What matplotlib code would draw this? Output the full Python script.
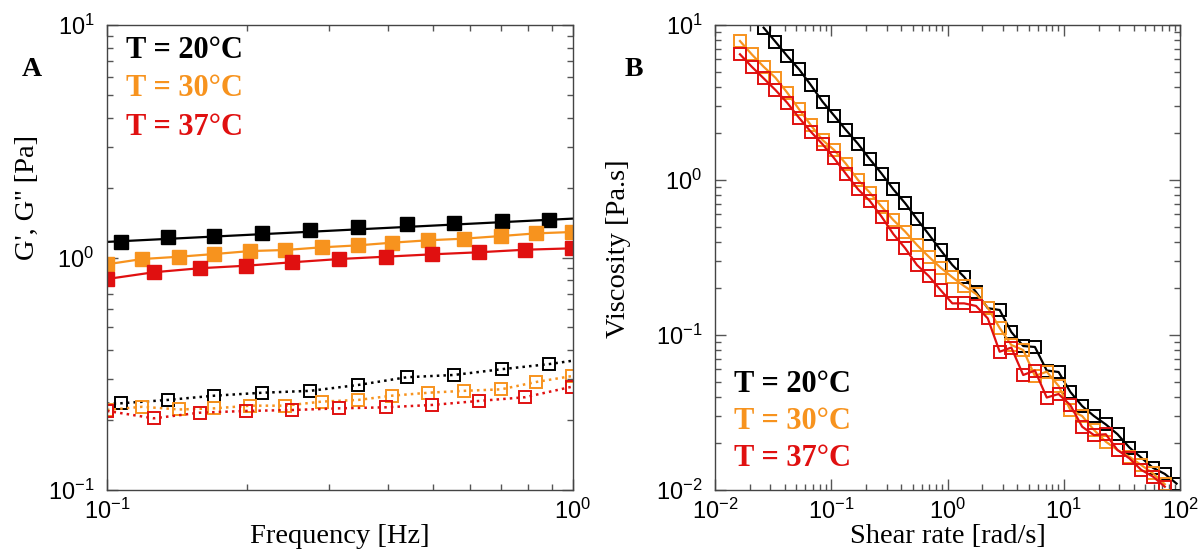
import matplotlib
matplotlib.use("Agg")
import matplotlib.pyplot as plt
from matplotlib.ticker import LogLocator, NullFormatter

plt.rcParams['font.family'] = 'Liberation Sans'
plt.rcParams['mathtext.fontset'] = 'custom'
plt.rcParams['mathtext.rm'] = 'Liberation Sans'

BLACK = '#000000'
ORANGE = '#F7931E'
RED = '#E01010'

# ---- panel A: oscillatory data ----
freq_20 = [0.107, 0.135, 0.170, 0.215, 0.273, 0.346, 0.440, 0.556, 0.705, 0.889]
g1_20 = [1.17, 1.22, 1.24, 1.27, 1.31, 1.35, 1.39, 1.41, 1.44, 1.45]
g2_20 = [0.236, 0.244, 0.2545, 0.262, 0.267, 0.283, 0.3055, 0.3125, 0.331, 0.348]
# fit lines for T = 20 (ends at 0.1 and 1 Hz)
fit_f = [0.1, 1.0]
fit_g1_20 = [1.167, 1.47]
fit_g2_20 = [0.235, 0.36]

freq_30 = [0.100, 0.119, 0.143, 0.170, 0.203, 0.241, 0.289, 0.346, 0.409, 0.489,
           0.583, 0.701, 0.833, 0.994]
g1_30 = [0.935, 0.985, 1.008, 1.035, 1.066, 1.077, 1.106, 1.128, 1.158, 1.186,
         1.205, 1.237, 1.27, 1.287]
g2_30 = [0.221, 0.228, 0.222, 0.2245, 0.2305, 0.2305, 0.240, 0.244, 0.2545, 0.262,
         0.267, 0.271, 0.2914, 0.309]

freq_37 = [0.100, 0.126, 0.158, 0.199, 0.250, 0.315, 0.396, 0.499, 0.627, 0.789, 0.994]
g1_37 = [0.808, 0.864, 0.899, 0.922, 0.954, 0.985, 1.008, 1.032, 1.053, 1.080, 1.095]
g2_37 = [0.2188, 0.2034, 0.215, 0.2188, 0.2208, 0.2245, 0.2268, 0.2322, 0.2415,
         0.2506, 0.278]

# ---- panel B: flow curves ----
rate = [0.0164, 0.0207, 0.0262, 0.0331, 0.0418, 0.0528, 0.0667, 0.0842, 0.106, 0.134,
        0.170, 0.215, 0.271, 0.342, 0.433, 0.546, 0.690, 0.872, 1.10, 1.39,
        1.76, 2.22, 2.81, 3.54, 4.48, 5.65, 7.14, 9.03, 11.4, 14.4,
        18.2, 23.0, 29.0, 36.7, 46.3, 58.6, 74.0, 93.4]
rate_20 = rate[2:]
rate_30 = rate[:37]
rate_37 = rate[:37]

visc_20 = [9.61, 7.80, 6.31, 5.18, 4.10, 3.20, 2.60, 2.10, 1.71, 1.36,
           1.10, 0.871, 0.707, 0.560, 0.446, 0.353, 0.283, 0.237, 0.189, 0.149,
           0.145, 0.1045, 0.0849, 0.0837, 0.0590, 0.0577, 0.0429, 0.0348, 0.0300, 0.0265,
           0.0229, 0.0188, 0.0162, 0.0139, 0.0127, 0.0110]
visc_30 = [7.88, 6.47, 5.38, 4.57, 3.66, 2.86, 2.26, 1.81, 1.56, 1.27,
           1.00, 0.828, 0.673, 0.552, 0.464, 0.381, 0.320, 0.272, 0.236, 0.207,
           0.184, 0.150, 0.111, 0.0862, 0.080, 0.0544, 0.058, 0.0469, 0.0328, 0.030,
           0.0244, 0.0205, 0.0181, 0.0164, 0.0145, 0.0128, 0.0109]
visc_37 = [6.47, 5.38, 4.53, 3.81, 3.15, 2.52, 2.05, 1.70, 1.38, 1.093,
           0.871, 0.732, 0.580, 0.448, 0.3625, 0.283, 0.240, 0.195, 0.160, 0.160,
           0.154, 0.128, 0.078, 0.083, 0.0552, 0.059, 0.0395, 0.0416, 0.0353, 0.0256,
           0.0226, 0.0229, 0.0181, 0.0160, 0.0135, 0.0122, 0.0105]

labels = ['T = 20°C', 'T = 30°C', 'T = 37°C']
colors = [BLACK, ORANGE, RED]

serif = 'Liberation Serif'
LABEL_FS = 20.5

fig = plt.figure(figsize=(11.98, 5.53), dpi=100)
axA = fig.add_axes([107 / 1198, 1 - 490 / 553, 466 / 1198, 465 / 553])
axB = fig.add_axes([715 / 1198, 1 - 490 / 553, 465 / 1198, 465 / 553])

# panel A
axA.plot(fit_f, fit_g1_20, '-', color=BLACK, lw=1.6)
axA.plot(freq_20, g1_20, 's', color=BLACK, ms=9.5)
axA.plot(freq_30, g1_30, 's-', color=ORANGE, ms=9.5, lw=1.6)
axA.plot(freq_37, g1_37, 's-', color=RED, ms=9.5, lw=1.6)

axA.plot([fit_f[0]] + freq_20 + [fit_f[1]], [fit_g2_20[0]] + g2_20 + [fit_g2_20[1]],
         ':', color=BLACK, lw=1.8)
axA.plot(freq_20, g2_20, 's', mfc='none', mec=BLACK, mew=1.4, ms=9)
axA.plot(freq_30, g2_30, 's:', color=ORANGE, mfc='none', mew=1.4, ms=9, lw=1.8)
axA.plot(freq_37, g2_37, 's:', color=RED, mfc='none', mew=1.4, ms=9, lw=1.8)

axA.set_xscale('log')
axA.set_yscale('log')
axA.set_xlim(0.1, 1)
axA.set_ylim(0.1, 10)
axA.set_xlabel('Frequency [Hz]', fontfamily=serif, fontsize=LABEL_FS, labelpad=0)
axA.set_ylabel("G', G'' [Pa]", fontfamily=serif, fontsize=LABEL_FS)
axA.yaxis.set_label_coords(-0.145, 0.63)

for i, (lab, c) in enumerate(zip(labels, colors)):
    axA.text(0.04, 0.946 - i * 0.083, lab, transform=axA.transAxes, color=c,
             fontfamily=serif, fontweight='bold', fontsize=22, va='center')

# panel B
for r, v, c in zip([rate_20, rate_30, rate_37], [visc_20, visc_30, visc_37], colors):
    axB.plot(r, v, 's-', color=c, mfc='none', mew=1.4, ms=8.5, lw=1.6)

axB.set_xscale('log')
axB.set_yscale('log')
axB.set_xlim(0.01, 100)
axB.set_ylim(0.01, 10)
axB.set_xlabel('Shear rate [rad/s]', fontfamily=serif, fontsize=LABEL_FS, labelpad=0)
axB.set_ylabel('Viscosity [Pa.s]', fontfamily=serif, fontsize=LABEL_FS)
axB.yaxis.set_label_coords(-0.18, 0.52)

for i, (lab, c) in enumerate(zip(labels, colors)):
    axB.text(0.04, 0.226 - i * 0.079, lab, transform=axB.transAxes, color=c,
             fontfamily=serif, fontweight='bold', fontsize=22, va='center')

for ax in (axA, axB):
    ax.xaxis.set_minor_formatter(NullFormatter())
    ax.yaxis.set_minor_formatter(NullFormatter())
    ax.yaxis.set_minor_locator(LogLocator(base=10, subs=range(2, 10), numticks=20))
    ax.xaxis.set_minor_locator(LogLocator(base=10, subs=range(2, 10), numticks=20))
    ax.tick_params(which='both', direction='in', top=True, right=True,
                   labelsize=17, color='#555555')
    ax.tick_params(axis='y', pad=9)
    ax.tick_params(axis='x', pad=6)
    ax.tick_params(which='major', length=8, width=1)
    ax.tick_params(which='minor', length=4, width=1)
    for s in ax.spines.values():
        s.set_color('#444444')
        s.set_linewidth(1)

fig.text(22 / 1198, 1 - 70 / 553, 'A', fontfamily=serif, fontweight='bold',
         fontsize=20, va='center')
fig.text(625 / 1198, 1 - 70 / 553, 'B', fontfamily=serif, fontweight='bold',
         fontsize=20, va='center')

fig.savefig('out.png', dpi=100)
